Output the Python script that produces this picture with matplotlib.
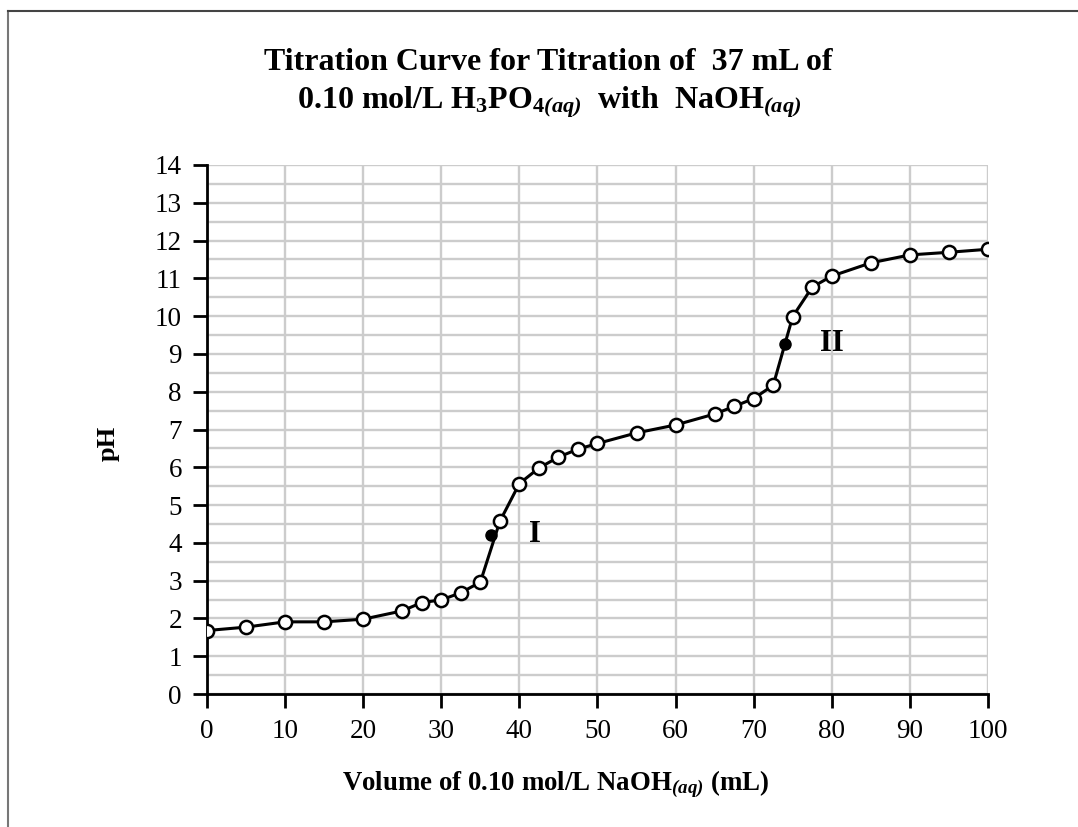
import matplotlib
matplotlib.use("Agg")
import matplotlib.pyplot as plt
from matplotlib.lines import Line2D
import numpy as np

plt.rcParams['font.family'] = ['Liberation Serif', 'DejaVu Serif']
plt.rcParams['mathtext.fontset'] = 'custom'
plt.rcParams['mathtext.rm'] = 'Liberation Serif'
plt.rcParams['mathtext.bf'] = 'Liberation Serif:bold'
plt.rcParams['mathtext.it'] = 'Liberation Serif:italic'
plt.rcParams['mathtext.bfit'] = 'Liberation Serif:italic:bold'

# titration data
volume = [0, 5, 10, 15, 20, 25, 27.5, 30, 32.5, 35, 37.5, 40, 42.5, 45, 47.5, 50,
          55, 60, 65, 67.5, 70, 72.5, 75, 77.5, 80, 85, 90, 95, 100]
ph = [1.68, 1.77, 1.91, 1.91, 1.98, 2.2, 2.42, 2.49, 2.68, 2.96, 4.57, 5.57, 5.98,
      6.27, 6.48, 6.63, 6.91, 7.12, 7.41, 7.61, 7.82, 8.17, 9.99, 10.77, 11.06,
      11.41, 11.62, 11.69, 11.77]

# equivalence points
eq_volume = [36.4, 74.0]
eq_ph = [4.21, 9.27]
eq_labels = ["I", "II"]
eq_label_x = [42.0, 80.0]

fig = plt.figure(figsize=(10.78, 8.27), dpi=100)
ax = fig.add_axes([0.192, 0.1608, 0.7245, 0.6397])

ax.plot(volume, ph, color='black', lw=2.2, marker='o', ms=9.5,
        mfc='white', mec='black', mew=1.8, zorder=3)
ax.plot(eq_volume, eq_ph, 'o', color='black', ms=8, zorder=4)
for lx, ly, lab in zip(eq_label_x, eq_ph, eq_labels):
    ax.text(lx, ly, lab, fontsize=22, fontweight='bold', ha='center', va='center')

ax.set_xlim(0, 100)
ax.set_ylim(0, 14)
ax.set_xticks(np.arange(0, 101, 10))
ax.set_yticks(np.arange(0, 15, 1))
ax.set_yticks(np.arange(0, 14.1, 0.5), minor=True)
ax.grid(True, which='both', axis='y', color='#cccccc', lw=1.7, zorder=0)
ax.grid(True, which='major', axis='x', color='#cccccc', lw=1.7, zorder=0)
ax.set_axisbelow(True)
ax.tick_params(which='major', direction='out', length=10, width=2, labelsize=19.5, pad=8)
ax.tick_params(which='minor', length=0)
for s in ['top', 'right']:
    ax.spines[s].set_visible(False)
for s in ['left', 'bottom']:
    ax.spines[s].set_linewidth(2)

ax.set_ylabel('pH', fontsize=19, fontweight='bold')
ax.yaxis.set_label_coords(-0.112, 0.473)
ax.set_xlabel(r'Volume of 0.10 mol/L NaOH$_{\mathbfit{(aq)}}$ (mL)', fontsize=19.4,
              fontweight='bold')
ax.xaxis.set_label_coords(0.446, -0.141)

fig.text(0.509, 0.924, 'Titration Curve for Titration of  37 mL of',
         fontsize=23, fontweight='bold', ha='center', va='center')
fig.text(0.509, 0.876,
         r'0.10 mol/L H$_\mathbf{3}$PO$_{\mathbf{4}\mathbfit{(aq)}}$  with  NaOH$_{\mathbfit{(aq)}}$',
         fontsize=23, fontweight='bold', ha='center', va='center')

# outer frame lines
fig.add_artist(Line2D([8 / 1078, 8 / 1078], [0, 1 - 11 / 827], transform=fig.transFigure,
                      color='#777777', lw=1.5))
fig.add_artist(Line2D([8 / 1078, 1], [1 - 11 / 827, 1 - 11 / 827], transform=fig.transFigure,
                      color='#444444', lw=1.5))

fig.savefig('out.png', dpi=100)
